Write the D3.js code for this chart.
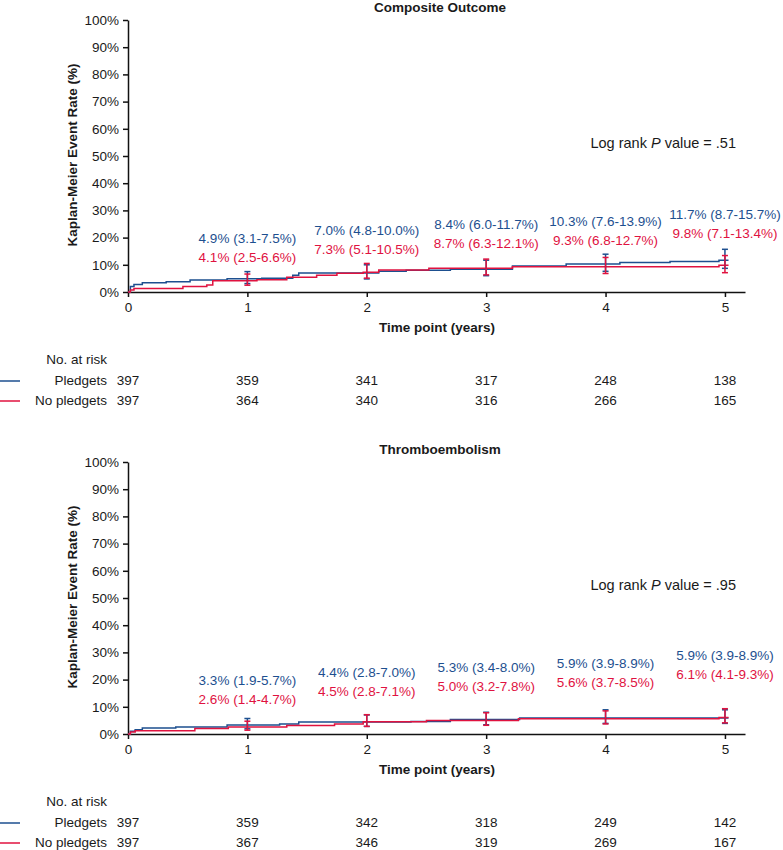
<!DOCTYPE html>
<html>
<head>
<meta charset="utf-8">
<script src="https://cdn.jsdelivr.net/npm/d3@7"></script>
<style>
  body { margin: 0; background: #fff; }
  svg { display: block; font-family: "Liberation Sans", Arial, Helvetica, sans-serif; }
</style>
</head>
<body>
<svg id="chart" width="783" height="850"></svg>
<script>
// ---------- DATA ----------
const years = [0, 1, 2, 3, 4, 5];
const yTicks = [0, 10, 20, 30, 40, 50, 60, 70, 80, 90, 100];
const groups = ["Pledgets", "No pledgets"];

// Panel 1: Composite Outcome
const compTitle = "Composite Outcome";
const compPValue = ".51";
const compPledgetsT = [0, 0.02, 0.05, 0.12, 0.32, 0.52, 0.83, 1.12, 1.38, 1.43, 2.1, 2.33, 2.7, 3.22, 3.67, 4.12, 4.54, 4.95, 5.03];
const compPledgetsV = [0, 2.0, 2.8, 3.4, 3.8, 4.4, 4.9, 5.1, 6.2, 7.0, 7.6, 8.0, 8.4, 9.6, 10.3, 10.8, 11.2, 11.7, 11.7];
const compNoPledgetsT = [0, 0.02, 0.05, 0.46, 0.66, 0.71, 1.08, 1.33, 1.58, 1.75, 1.97, 2.1, 2.52, 3.22, 4.95, 5.03];
const compNoPledgetsV = [0, 0.7, 1.3, 2.0, 2.6, 4.1, 4.5, 5.4, 6.2, 6.9, 7.3, 8.1, 8.7, 9.3, 9.8, 9.8];
const compPledgetsEst = [4.9, 7.0, 8.4, 10.3, 11.7];
const compPledgetsLo  = [3.1, 4.8, 6.0, 7.6, 8.7];
const compPledgetsHi  = [7.5, 10.0, 11.7, 13.9, 15.7];
const compNoPledgetsEst = [4.1, 7.3, 8.7, 9.3, 9.8];
const compNoPledgetsLo  = [2.5, 5.1, 6.3, 6.8, 7.1];
const compNoPledgetsHi  = [6.6, 10.5, 12.1, 12.7, 13.4];
const compLabelLevel = [12.9, 15.8, 18.0, 19.1, 21.7]; // % level of the annotation text
const compRiskPledgets = [397, 359, 341, 317, 248, 138];
const compRiskNoPledgets = [397, 364, 340, 316, 266, 165];

// Panel 2: Thromboembolism
const tePTitle = "Thromboembolism";
const tePValue = ".95";
const tePledgetsT = [0, 0.02, 0.06, 0.12, 0.4, 0.83, 1.27, 1.43, 2.37, 2.7, 3.28, 5.03];
const tePledgetsV = [0, 1.0, 1.6, 2.2, 2.6, 3.3, 3.7, 4.4, 4.6, 5.3, 5.9, 5.9];
const teNoPledgetsT = [0, 0.02, 0.06, 0.56, 0.84, 1.33, 1.73, 1.97, 2.5, 3.27, 4.95, 5.03];
const teNoPledgetsV = [0, 0.7, 1.2, 2.0, 2.6, 3.1, 3.7, 4.5, 5.0, 5.6, 6.1, 6.1];
const tePledgetsEst = [3.3, 4.4, 5.3, 5.9, 5.9];
const tePledgetsLo  = [1.9, 2.8, 3.4, 3.9, 3.9];
const tePledgetsHi  = [5.7, 7.0, 8.0, 8.9, 8.9];
const teNoPledgetsEst = [2.6, 4.5, 5.0, 5.6, 6.1];
const teNoPledgetsLo  = [1.4, 2.8, 3.2, 3.7, 4.1];
const teNoPledgetsHi  = [4.7, 7.1, 7.8, 8.5, 9.3];
const teLabelLevel = [12.6, 15.6, 17.4, 18.9, 21.8];
const teRiskPledgets = [397, 359, 342, 318, 249, 142];
const teRiskNoPledgets = [397, 367, 346, 319, 269, 167];

// ---------- STYLE ----------
const BLUE = "#1d4f8f";
const RED = "#e0123f";
const TXT = "#1a1a1a";
const svg = d3.select("#chart");

function drawPanel(top, p) {
  const g = svg.append("g").attr("transform", `translate(0,${top})`);
  const x = d3.scaleLinear().domain([0, 5.168]).range([128, 745]);
  const y = d3.scaleLinear().domain([0, 100]).range([292, 20]);
  const fmt = v => v.toFixed(1) + "%";

  // title
  g.append("text").attr("x", 440).attr("y", 12).attr("text-anchor", "middle")
    .attr("font-size", 13.5).attr("font-weight", "bold").attr("fill", TXT).text(p.title);

  // y axis
  const ya = g.append("g").attr("transform", "translate(128,0)")
    .call(d3.axisLeft(y).tickValues(yTicks).tickFormat(d => d + "%").tickSize(5).tickSizeOuter(0).tickPadding(4));
  ya.selectAll("text").attr("font-size", 13.5).attr("fill", TXT).attr("font-family", null);
  ya.selectAll("line, path").attr("stroke", "#111").attr("stroke-width", 1.5);

  // x axis
  const xa = g.append("g").attr("transform", "translate(0,292)")
    .call(d3.axisBottom(x).tickValues(years).tickFormat(d3.format("d")).tickSize(5).tickSizeOuter(0).tickPadding(5));
  xa.selectAll("text").attr("font-size", 13.5).attr("fill", TXT).attr("font-family", null);
  xa.selectAll("line, path").attr("stroke", "#111").attr("stroke-width", 1.5);

  // axis titles
  g.append("text").attr("x", 437).attr("y", 332).attr("text-anchor", "middle")
    .attr("font-size", 13.5).attr("font-weight", "bold").attr("fill", TXT).text("Time point (years)");
  g.append("text").attr("transform", "translate(77,155) rotate(-90)").attr("text-anchor", "middle")
    .attr("font-size", 13.5).attr("font-weight", "bold").attr("fill", TXT).text("Kaplan-Meier Event Rate (%)");

  // curves
  const line = d3.line().x(d => x(d[0])).y(d => y(d[1])).curve(d3.curveStepAfter);
  const series = [
    { t: p.pT, v: p.pV, c: BLUE },
    { t: p.nT, v: p.nV, c: RED }
  ];
  series.forEach(s => {
    g.append("path").datum(s.t.map((t, i) => [t, s.v[i]]))
      .attr("d", line).attr("fill", "none").attr("stroke", s.c).attr("stroke-width", 1.5);
  });

  // CI error bars
  const ci = [
    { est: p.pEst, lo: p.pLo, hi: p.pHi, c: BLUE },
    { est: p.nEst, lo: p.nLo, hi: p.nHi, c: RED }
  ];
  ci.forEach(s => {
    const eb = g.append("g").attr("stroke", s.c).attr("stroke-width", 1.5);
    s.est.forEach((e, i) => {
      const xx = x(years[i + 1]);
      eb.append("line").attr("x1", xx).attr("x2", xx).attr("y1", y(s.lo[i])).attr("y2", y(s.hi[i]));
      eb.append("line").attr("x1", xx - 3).attr("x2", xx + 3).attr("y1", y(s.lo[i])).attr("y2", y(s.lo[i]));
      eb.append("line").attr("x1", xx - 3).attr("x2", xx + 3).attr("y1", y(s.hi[i])).attr("y2", y(s.hi[i]));
    });
  });

  // annotations
  p.pEst.forEach((e, i) => {
    const xx = x(years[i + 1]);
    const yy = y(p.level[i]);
    g.append("text").attr("x", xx).attr("y", yy - 19).attr("dy", "0.35em").attr("text-anchor", "middle")
      .attr("font-size", 13.5).attr("fill", BLUE)
      .text(`${fmt(e)} (${p.pLo[i].toFixed(1)}-${p.pHi[i].toFixed(1)}%)`);
    g.append("text").attr("x", xx).attr("y", yy).attr("dy", "0.35em").attr("text-anchor", "middle")
      .attr("font-size", 13.5).attr("fill", RED)
      .text(`${fmt(p.nEst[i])} (${p.nLo[i].toFixed(1)}-${p.nHi[i].toFixed(1)}%)`);
  });

  // log rank
  const lr = g.append("text").attr("x", 736).attr("y", 148).attr("text-anchor", "end")
    .attr("font-size", 14.5).attr("fill", TXT);
  lr.append("tspan").text("Log rank ");
  lr.append("tspan").attr("font-style", "italic").text("P");
  lr.append("tspan").text(" value = " + p.pval);

  // number at risk
  g.append("text").attr("x", 107).attr("y", 364).attr("text-anchor", "end")
    .attr("font-size", 13.5).attr("fill", TXT).text("No. at risk");
  const rows = [
    { name: groups[0], vals: p.rP, c: BLUE, yy: 385 },
    { name: groups[1], vals: p.rN, c: RED, yy: 405 }
  ];
  rows.forEach(r => {
    g.append("line").attr("x1", 0).attr("x2", 20).attr("y1", r.yy - 4).attr("y2", r.yy - 4)
      .attr("stroke", r.c).attr("stroke-width", 1.5);
    g.append("text").attr("x", 107).attr("y", r.yy).attr("text-anchor", "end")
      .attr("font-size", 13.5).attr("fill", TXT).text(r.name);
    r.vals.forEach((v, i) => {
      g.append("text").attr("x", x(years[i])).attr("y", r.yy).attr("text-anchor", "middle")
        .attr("font-size", 13.5).attr("fill", TXT).text(v);
    });
  });
}

drawPanel(0, {
  title: compTitle, pval: compPValue,
  pT: compPledgetsT, pV: compPledgetsV, nT: compNoPledgetsT, nV: compNoPledgetsV,
  pEst: compPledgetsEst, pLo: compPledgetsLo, pHi: compPledgetsHi,
  nEst: compNoPledgetsEst, nLo: compNoPledgetsLo, nHi: compNoPledgetsHi,
  level: compLabelLevel, rP: compRiskPledgets, rN: compRiskNoPledgets
});
drawPanel(442, {
  title: tePTitle, pval: tePValue,
  pT: tePledgetsT, pV: tePledgetsV, nT: teNoPledgetsT, nV: teNoPledgetsV,
  pEst: tePledgetsEst, pLo: tePledgetsLo, pHi: tePledgetsHi,
  nEst: teNoPledgetsEst, nLo: teNoPledgetsLo, nHi: teNoPledgetsHi,
  level: teLabelLevel, rP: teRiskPledgets, rN: teRiskNoPledgets
});
</script>
</body>
</html>
